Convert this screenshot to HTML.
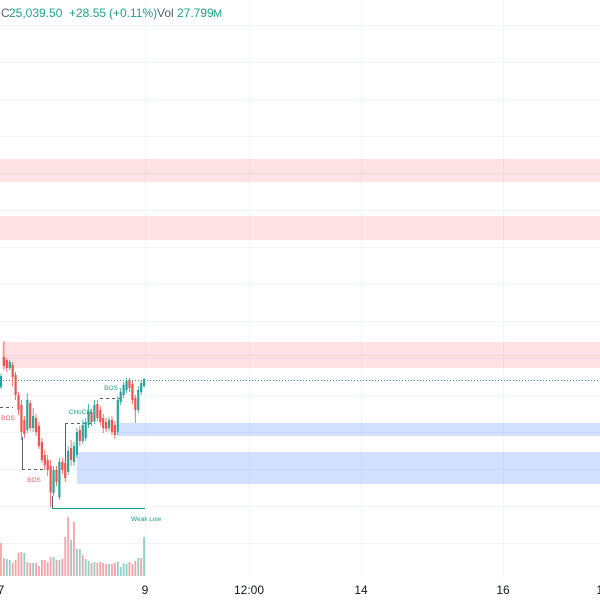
<!DOCTYPE html>
<html><head><meta charset="utf-8"><style>
html,body{margin:0;padding:0;background:#fff;}
svg{display:block;}
text{font-family:"Liberation Sans",sans-serif;}
</style></head><body>
<svg width="600" height="600" viewBox="0 0 600 600" xmlns="http://www.w3.org/2000/svg">
<rect width="600" height="600" fill="#ffffff"/>
<!-- horizontal grid -->
<g stroke="#f0f3fa" stroke-width="1">
<line x1="0" y1="25.5" x2="600" y2="25.5"/>
<line x1="0" y1="62.5" x2="600" y2="62.5"/>
<line x1="0" y1="99.5" x2="600" y2="99.5"/>
<line x1="0" y1="136.5" x2="600" y2="136.5"/>
<line x1="0" y1="173.5" x2="600" y2="173.5"/>
<line x1="0" y1="210.5" x2="600" y2="210.5"/>
<line x1="0" y1="247.5" x2="600" y2="247.5"/>
<line x1="0" y1="284.5" x2="600" y2="284.5"/>
<line x1="0" y1="321.5" x2="600" y2="321.5"/>
<line x1="0" y1="358.5" x2="600" y2="358.5"/>
<line x1="0" y1="395.5" x2="600" y2="395.5"/>
<line x1="0" y1="432.5" x2="600" y2="432.5"/>
<line x1="0" y1="469.5" x2="600" y2="469.5"/>
<line x1="0" y1="506.5" x2="600" y2="506.5"/>
<line x1="0" y1="543.5" x2="600" y2="543.5"/>
</g>
<!-- vertical grid -->
<g stroke="#f0f3fa" stroke-width="1">
<line x1="145.5" y1="0" x2="145.5" y2="577"/>
<line x1="249.5" y1="0" x2="249.5" y2="577"/>
<line x1="361.5" y1="0" x2="361.5" y2="577"/>
<line x1="503.5" y1="0" x2="503.5" y2="577"/>
</g>
<!-- zones -->
<rect x="0" y="159" width="600" height="23" fill="#f23645" fill-opacity="0.14"/>
<rect x="0" y="216" width="600" height="24" fill="#f23645" fill-opacity="0.14"/>
<rect x="2" y="342" width="598" height="26" fill="#f23645" fill-opacity="0.14"/>
<line x1="2" y1="355.5" x2="600" y2="355.5" stroke="#f23645" stroke-opacity="0.12"/>
<rect x="117" y="423" width="483" height="13" fill="#2962ff" fill-opacity="0.2"/>
<rect x="77" y="452" width="523" height="32" fill="#2962ff" fill-opacity="0.2"/>
<!-- dotted price line -->
<line x1="0" y1="380.5" x2="600" y2="380.5" stroke="#3d8f8a" stroke-width="1" stroke-dasharray="1,2"/>
<!-- volume -->
<g id="vol"></g>
<!-- structure lines -->
<g stroke="#5d606b" stroke-width="1" fill="none">
<line x1="0" y1="407.5" x2="13" y2="407.5" stroke-dasharray="3,3"/>
<line x1="22.5" y1="437" x2="22.5" y2="469"/>
<line x1="22" y1="469.5" x2="46" y2="469.5" stroke-dasharray="3,3"/>
<line x1="65.5" y1="423" x2="65.5" y2="462"/>
<line x1="65" y1="423.5" x2="91" y2="423.5" stroke-dasharray="3,3"/>
<line x1="100" y1="398.5" x2="122" y2="398.5" stroke-dasharray="3,3"/>
<line x1="52.5" y1="496" x2="52.5" y2="508"/>
</g>
<line x1="52" y1="508.5" x2="145" y2="508.5" stroke="#089981" stroke-width="1"/>
<!-- candles -->
<g id="candles"></g>
<!-- labels -->
<g font-size="6.5">
<text x="8" y="420" fill="#f05a67" text-anchor="middle">BOS</text>
<text x="34" y="482" fill="#f05a67" text-anchor="middle">BOS</text>
<text x="80" y="414" fill="#1f9e8a" text-anchor="middle">CHoCH</text>
<text x="111" y="390" fill="#1f9e8a" text-anchor="middle">BOS</text>
<text x="131" y="521" fill="#1f9e8a">Weak Low</text>
</g>
<!-- header -->
<g font-size="12">
<text x="1" y="17" fill="#5d606b">C</text>
<text x="9" y="17" fill="#22a08f">25,039.50</text>
<text x="69" y="17" fill="#22a08f">+28.55</text>
<text x="109" y="17" fill="#22a08f">(+0.11%)</text>
<text x="157" y="17" fill="#5d606b">Vol</text>
<text x="177" y="17" fill="#22a08f">27.799</text>
<text x="213" y="17" fill="#22a08f" font-size="11">M</text>
</g>
<!-- x axis labels -->
<g font-size="12" fill="#131722" text-anchor="middle">
<text x="1" y="594">7</text>
<text x="145" y="594">9</text>
<text x="249" y="594">12:00</text>
<text x="361" y="594">14</text>
<text x="503" y="594">16</text>
<text x="603" y="594">17</text>
</g>
</svg>
<script>
(function(){
var ns="http://www.w3.org/2000/svg";
var d=[
[387,376,374,389],[357,366,341,370],[360,368,358,372],[368,362,360,370],[365,377,362,386],
[375,395,372,400],[395,410,392,415],[405,432,400,440],[420,434,416,438],[430,400,393,433],
[403,428,400,431],[428,416,408,432],[418,432,414,436],[426,446,422,449],[442,460,438,463],
[455,465,450,470],[460,470,455,476],[466,492,460,507],[493,470,466,496],[470,482,466,486],
[497,462,458,500],[462,470,458,474],[463,478,460,482],[472,451,446,475],[448,460,440,466],
[462,446,442,466],[455,432,428,458],[430,441,426,446],[441,425,420,444],[438,422,418,441],
[425,412,404,428],[412,422,409,426],[421,405,400,424],[404,418,400,421],[410,422,406,425],
[418,428,414,433],[422,429,418,432],[428,420,417,431],[420,432,416,435],[425,435,421,439],
[432,400,396,435],[402,392,388,405],[395,385,382,398],[390,381,378,393],[380,388,378,392],
[384,400,381,404],[398,410,395,423],[410,390,386,413],[392,383,380,395],[386,379,378,388]];
var v=[543,558,559,560,563,560,553,552,553,562,563,563,563,566,560,560,562,557,557,560,560,559,537,517,540,522,549,549,555,559,561,563,562,563,562,563,564,564,564,563,562,567,563,564,562,564,561,558,558,537];
var vc=[0,0,1,1,0,0,0,0,1,0,0,1,0,0,0,0,0,0,1,0,1,0,0,0,1,0,1,1,0,1,1,0,1,0,0,0,0,1,0,0,1,1,1,1,0,0,0,1,0,1];
var cg=document.getElementById("candles"),vg=document.getElementById("vol");
function el(g,t,a){var e=document.createElementNS(ns,t);for(var k in a)e.setAttribute(k,a[k]);g.appendChild(e);}
for(var i=0;i<d.length;i++){
 var x=1+i*2.92,o=d[i][0],c=d[i][1],h=d[i][2],l=d[i][3];
 var up=c<o,col=up?"#26a69a":"#ef5350";
 el(cg,"line",{x1:x,y1:h,x2:x,y2:l,stroke:col,"stroke-width":0.8});
 var t=Math.min(o,c),b=Math.max(o,c);if(b-t<1)b=t+1;
 el(cg,"rect",{x:x-1.1,y:t,width:2.2,height:b-t,fill:col});
 el(vg,"rect",{x:x-0.9,y:v[i],width:1.8,height:576-v[i],fill:vc[i]?"#8fd0c6":"#f5a3a8"});
}
})();
</script>
</body></html>
